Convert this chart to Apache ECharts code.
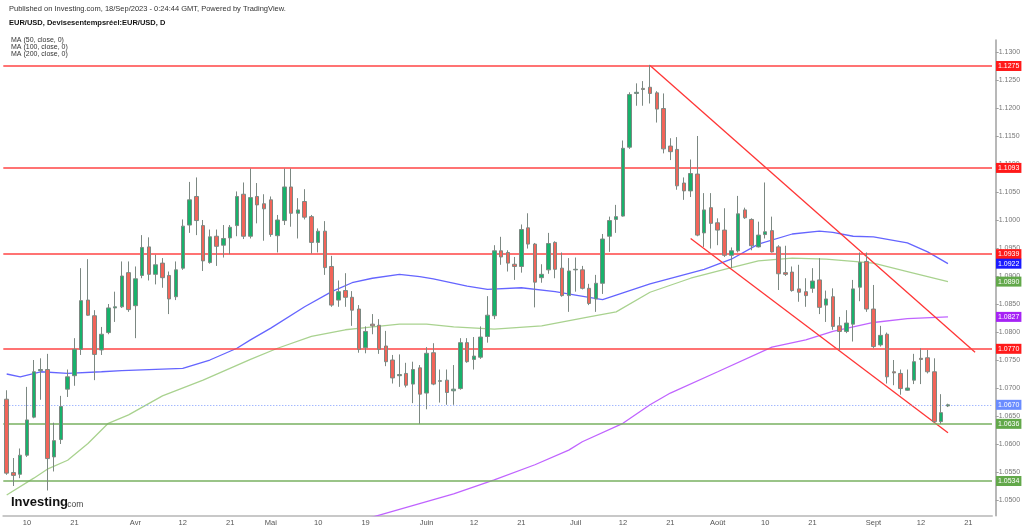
<!DOCTYPE html>
<html>
<head>
<meta charset="utf-8">
<title>EUR/USD</title>
<script src="https://cdn.jsdelivr.net/npm/echarts@6/dist/echarts.min.js"></script>
<style>
html, body { margin: 0; padding: 0; background: #fff; }
#main { width: 1024px; height: 529px; }
</style>
</head>
<body>
<div id="main"></div>
<script>
// bougies journalieres : [date, ouverture, haut, bas, cloture]
var candles = [
    ['2023-03-07', 1.0680, 1.0696, 1.0545, 1.0548],
    ['2023-03-08', 1.0549, 1.0575, 1.0525, 1.0544],
    ['2023-03-09', 1.0546, 1.0592, 1.0539, 1.0580],
    ['2023-03-10', 1.0580, 1.0702, 1.0577, 1.0643],
    ['2023-03-13', 1.0648, 1.0750, 1.0646, 1.0729],
    ['2023-03-14', 1.0731, 1.0753, 1.0679, 1.0733],
    ['2023-03-15', 1.0733, 1.0761, 1.0517, 1.0574],
    ['2023-03-16', 1.0577, 1.0638, 1.0551, 1.0606],
    ['2023-03-17', 1.0608, 1.0686, 1.0600, 1.0667],
    ['2023-03-20', 1.0698, 1.0733, 1.0684, 1.0720],
    ['2023-03-21', 1.0722, 1.0789, 1.0704, 1.0769],
    ['2023-03-22', 1.0769, 1.0914, 1.0759, 1.0856],
    ['2023-03-23', 1.0857, 1.0930, 1.0829, 1.0830],
    ['2023-03-24', 1.0829, 1.0839, 1.0714, 1.0760],
    ['2023-03-27', 1.0768, 1.0809, 1.0759, 1.0796],
    ['2023-03-28', 1.0799, 1.0850, 1.0796, 1.0843],
    ['2023-03-29', 1.0843, 1.0872, 1.0818, 1.0845],
    ['2023-03-30', 1.0845, 1.0926, 1.0843, 1.0900],
    ['2023-03-31', 1.0906, 1.0926, 1.0836, 1.0840],
    ['2023-04-03', 1.0847, 1.0917, 1.0789, 1.0895],
    ['2023-04-04', 1.0901, 1.0973, 1.0896, 1.0951],
    ['2023-04-05', 1.0952, 1.0969, 1.0892, 1.0903],
    ['2023-04-06', 1.0903, 1.0938, 1.0885, 1.0920],
    ['2023-04-07', 1.0923, 1.0932, 1.0879, 1.0897],
    ['2023-04-10', 1.0901, 1.0908, 1.0832, 1.0859],
    ['2023-04-11', 1.0863, 1.0926, 1.0857, 1.0911],
    ['2023-04-12', 1.0914, 1.1001, 1.0911, 1.0989],
    ['2023-04-13', 1.0991, 1.1068, 1.0977, 1.1036],
    ['2023-04-14', 1.1042, 1.1076, 1.0973, 1.0999],
    ['2023-04-17', 1.0990, 1.1000, 1.0909, 1.0927],
    ['2023-04-18', 1.0924, 1.0983, 1.0922, 1.0970],
    ['2023-04-19', 1.0971, 1.0983, 1.0918, 1.0953],
    ['2023-04-20', 1.0955, 1.0991, 1.0933, 1.0967],
    ['2023-04-21', 1.0968, 1.0991, 1.0939, 1.0987],
    ['2023-04-24', 1.0990, 1.1051, 1.0971, 1.1042],
    ['2023-04-25', 1.1046, 1.1067, 1.0966, 1.0971],
    ['2023-04-26', 1.0971, 1.1092, 1.0967, 1.1040],
    ['2023-04-27', 1.1042, 1.1066, 1.0994, 1.1027],
    ['2023-04-28', 1.1029, 1.1046, 1.0963, 1.1020],
    ['2023-05-01', 1.1036, 1.1042, 1.0970, 1.0974],
    ['2023-05-02', 1.0972, 1.1009, 1.0942, 1.1000],
    ['2023-05-03', 1.0999, 1.1092, 1.0991, 1.1059],
    ['2023-05-04', 1.1059, 1.1092, 1.0988, 1.1012],
    ['2023-05-05', 1.1012, 1.1039, 1.0967, 1.1018],
    ['2023-05-08', 1.1033, 1.1055, 1.1001, 1.1005],
    ['2023-05-09', 1.1006, 1.1009, 1.0940, 1.0960],
    ['2023-05-10', 1.0960, 1.0985, 1.0942, 1.0980],
    ['2023-05-11', 1.0980, 1.0998, 1.0902, 1.0915],
    ['2023-05-12', 1.0917, 1.0936, 1.0845, 1.0848],
    ['2023-05-15', 1.0857, 1.0892, 1.0845, 1.0872],
    ['2023-05-16', 1.0874, 1.0905, 1.0845, 1.0862],
    ['2023-05-17', 1.0862, 1.0873, 1.0811, 1.0839],
    ['2023-05-18', 1.0841, 1.0848, 1.0763, 1.0769],
    ['2023-05-19', 1.0772, 1.0810, 1.0762, 1.0801],
    ['2023-05-22', 1.0814, 1.0832, 1.0796, 1.0811],
    ['2023-05-23', 1.0812, 1.0823, 1.0761, 1.0769],
    ['2023-05-24', 1.0775, 1.0802, 1.0739, 1.0747],
    ['2023-05-25', 1.0750, 1.0759, 1.0708, 1.0718],
    ['2023-05-26', 1.0722, 1.0760, 1.0702, 1.0724],
    ['2023-05-29', 1.0726, 1.0745, 1.0701, 1.0705],
    ['2023-05-30', 1.0707, 1.0747, 1.0673, 1.0733],
    ['2023-05-31', 1.0736, 1.0741, 1.0636, 1.0689],
    ['2023-06-01', 1.0691, 1.0773, 1.0662, 1.0762],
    ['2023-06-02', 1.0763, 1.0780, 1.0705, 1.0707],
    ['2023-06-05', 1.0712, 1.0733, 1.0674, 1.0713],
    ['2023-06-06', 1.0714, 1.0733, 1.0670, 1.0692],
    ['2023-06-07', 1.0695, 1.0741, 1.0670, 1.0698],
    ['2023-06-08', 1.0699, 1.0789, 1.0697, 1.0781],
    ['2023-06-09', 1.0781, 1.0789, 1.0745, 1.0747],
    ['2023-06-12', 1.0751, 1.0791, 1.0733, 1.0757],
    ['2023-06-13', 1.0755, 1.0810, 1.0752, 1.0791],
    ['2023-06-14', 1.0792, 1.0864, 1.0781, 1.0830],
    ['2023-06-15', 1.0829, 1.0955, 1.0823, 1.0945],
    ['2023-06-16', 1.0945, 1.0970, 1.0920, 1.0934],
    ['2023-06-19', 1.0942, 1.0946, 1.0908, 1.0923],
    ['2023-06-20', 1.0921, 1.0934, 1.0893, 1.0917],
    ['2023-06-21', 1.0917, 1.0992, 1.0906, 1.0983],
    ['2023-06-22', 1.0986, 1.1012, 1.0949, 1.0957],
    ['2023-06-23', 1.0957, 1.0959, 1.0844, 1.0889],
    ['2023-06-26', 1.0897, 1.0921, 1.0888, 1.0903],
    ['2023-06-27', 1.0911, 1.0977, 1.0904, 1.0958],
    ['2023-06-28', 1.0960, 1.0962, 1.0896, 1.0912],
    ['2023-06-29', 1.0914, 1.0942, 1.0863, 1.0865],
    ['2023-06-30', 1.0865, 1.0932, 1.0836, 1.0909],
    ['2023-07-03', 1.0911, 1.0933, 1.0872, 1.0912],
    ['2023-07-04', 1.0911, 1.0918, 1.0876, 1.0878],
    ['2023-07-05', 1.0878, 1.0886, 1.0848, 1.0851],
    ['2023-07-06', 1.0859, 1.0902, 1.0836, 1.0887],
    ['2023-07-07', 1.0887, 1.0975, 1.0868, 1.0966],
    ['2023-07-10', 1.0971, 1.1006, 1.0943, 1.0999],
    ['2023-07-11', 1.1001, 1.1027, 1.0977, 1.1006],
    ['2023-07-12', 1.1007, 1.1142, 1.1006, 1.1128],
    ['2023-07-13', 1.1130, 1.1228, 1.1127, 1.1224],
    ['2023-07-14', 1.1226, 1.1244, 1.1204, 1.1228],
    ['2023-07-17', 1.1235, 1.1248, 1.1204, 1.1233],
    ['2023-07-18', 1.1237, 1.1277, 1.1208, 1.1226],
    ['2023-07-19', 1.1227, 1.1230, 1.1174, 1.1198],
    ['2023-07-20', 1.1199, 1.1226, 1.1119, 1.1127],
    ['2023-07-21', 1.1132, 1.1146, 1.1107, 1.1122],
    ['2023-07-24', 1.1126, 1.1148, 1.1054, 1.1061],
    ['2023-07-25', 1.1066, 1.1076, 1.1036, 1.1052],
    ['2023-07-26', 1.1052, 1.1108, 1.1041, 1.1083],
    ['2023-07-27', 1.1082, 1.1150, 1.0971, 1.0973],
    ['2023-07-28', 1.0977, 1.1048, 1.0952, 1.1018],
    ['2023-07-31', 1.1022, 1.1048, 1.0949, 1.0994],
    ['2023-08-01', 1.0995, 1.1003, 1.0955, 1.0982],
    ['2023-08-02', 1.0982, 1.1021, 1.0934, 1.0937],
    ['2023-08-03', 1.0937, 1.0951, 1.0914, 1.0945],
    ['2023-08-04', 1.0945, 1.1043, 1.0942, 1.1011],
    ['2023-08-07', 1.1018, 1.1022, 1.1002, 1.1004],
    ['2023-08-08', 1.1001, 1.1003, 1.0946, 1.0954],
    ['2023-08-09', 1.0952, 1.0997, 1.0951, 1.0973],
    ['2023-08-10', 1.0974, 1.1067, 1.0967, 1.0979],
    ['2023-08-11', 1.0981, 1.1006, 1.0942, 1.0943],
    ['2023-08-14', 1.0952, 1.0955, 1.0875, 1.0904],
    ['2023-08-15', 1.0906, 1.0954, 1.0900, 1.0903],
    ['2023-08-16', 1.0907, 1.0917, 1.0872, 1.0874],
    ['2023-08-17', 1.0877, 1.0920, 1.0854, 1.0871],
    ['2023-08-18', 1.0872, 1.0896, 1.0845, 1.0865],
    ['2023-08-21', 1.0878, 1.0914, 1.0870, 1.0891],
    ['2023-08-22', 1.0893, 1.0932, 1.0832, 1.0844],
    ['2023-08-23', 1.0848, 1.0874, 1.0818, 1.0859],
    ['2023-08-24', 1.0863, 1.0878, 1.0804, 1.0810],
    ['2023-08-25', 1.0811, 1.0827, 1.0768, 1.0801],
    ['2023-08-28', 1.0801, 1.0839, 1.0798, 1.0816],
    ['2023-08-29', 1.0814, 1.0893, 1.0783, 1.0877],
    ['2023-08-30', 1.0880, 1.0942, 1.0855, 1.0924],
    ['2023-08-31', 1.0926, 1.0942, 1.0836, 1.0841],
    ['2023-09-01', 1.0841, 1.0884, 1.0771, 1.0774],
    ['2023-09-04', 1.0777, 1.0811, 1.0774, 1.0794],
    ['2023-09-05', 1.0796, 1.0799, 1.0708, 1.0720],
    ['2023-09-06', 1.0729, 1.0750, 1.0705, 1.0727],
    ['2023-09-07', 1.0726, 1.0733, 1.0688, 1.0699],
    ['2023-09-08', 1.0696, 1.0733, 1.0695, 1.0700],
    ['2023-09-11', 1.0714, 1.0761, 1.0707, 1.0747],
    ['2023-09-12', 1.0753, 1.0771, 1.0707, 1.0751],
    ['2023-09-13', 1.0754, 1.0768, 1.0726, 1.0729],
    ['2023-09-14', 1.0729, 1.0753, 1.0638, 1.0640],
    ['2023-09-15', 1.0640, 1.0689, 1.0636, 1.0656],
    ['2023-09-18', 1.0668, 1.0672, 1.0666, 1.0670]
];

// moyennes mobiles
var ma50 = [
    ['2023-03-07', 1.0725], ['2023-03-09', 1.0720], ['2023-03-14', 1.0729], ['2023-03-20', 1.0726],
    ['2023-03-27', 1.0729], ['2023-03-30', 1.0731], ['2023-04-12', 1.0735], ['2023-04-18', 1.0750],
    ['2023-04-24', 1.0771], ['2023-04-26', 1.0786], ['2023-05-01', 1.0807], ['2023-05-08', 1.0845],
    ['2023-05-12', 1.0872], ['2023-05-17', 1.0888], ['2023-05-22', 1.0896], ['2023-05-26', 1.0903],
    ['2023-05-31', 1.0899], ['2023-06-02', 1.0895], ['2023-06-09', 1.0882], ['2023-06-14', 1.0876],
    ['2023-06-21', 1.0879], ['2023-06-28', 1.0872], ['2023-07-03', 1.0866], ['2023-07-07', 1.0858],
    ['2023-07-18', 1.0886], ['2023-07-28', 1.0912], ['2023-08-03', 1.0930], ['2023-08-09', 1.0957],
    ['2023-08-16', 1.0975], ['2023-08-22', 1.0980], ['2023-08-24', 1.0978], ['2023-08-29', 1.0971],
    ['2023-09-01', 1.0970], ['2023-09-08', 1.0959], ['2023-09-13', 1.0943], ['2023-09-18', 1.0922]
];
var ma100 = [
    ['2023-03-07', 1.0509], ['2023-03-13', 1.0539], ['2023-03-15', 1.0555], ['2023-03-20', 1.0571],
    ['2023-03-23', 1.0601], ['2023-03-28', 1.0637], ['2023-03-31', 1.0652], ['2023-04-07', 1.0686],
    ['2023-04-17', 1.0714], ['2023-04-26', 1.0751], ['2023-05-02', 1.0771], ['2023-05-09', 1.0792],
    ['2023-05-16', 1.0804], ['2023-05-19', 1.0808], ['2023-05-26', 1.0814], ['2023-06-01', 1.0814],
    ['2023-06-07', 1.0809], ['2023-06-15', 1.0805], ['2023-06-26', 1.0811], ['2023-07-05', 1.0827],
    ['2023-07-11', 1.0836], ['2023-07-18', 1.0871], ['2023-07-26', 1.0896], ['2023-08-02', 1.0912],
    ['2023-08-09', 1.0927], ['2023-08-16', 1.0932], ['2023-08-23', 1.0930], ['2023-08-29', 1.0926],
    ['2023-09-01', 1.0923], ['2023-09-08', 1.0908], ['2023-09-18', 1.0890]
];
var ma200 = [
    ['2023-05-19', 1.0466], ['2023-06-07', 1.0511], ['2023-06-15', 1.0536], ['2023-06-23', 1.0563],
    ['2023-06-30', 1.0589], ['2023-07-04', 1.0604], ['2023-07-12', 1.0637], ['2023-07-18', 1.0670],
    ['2023-07-21', 1.0691], ['2023-08-01', 1.0729], ['2023-08-11', 1.0773], ['2023-08-18', 1.0786],
    ['2023-08-24', 1.0801], ['2023-09-01', 1.0817], ['2023-09-08', 1.0824], ['2023-09-18', 1.0827]
];

// niveaux horizontaux et canal baissier
var redLevels = [1.1275, 1.1093, 1.0939, 1.0770];
var greenLevels = [1.0636, 1.0534];
var lastPrice = 1.0670;
var channelTop = [['2023-07-18', 1.1276], ['2023-09-22', 1.0764]];
var channelBottom = [['2023-07-26', 1.0967], ['2023-09-18', 1.0620]];

var yTicks = [1.0500, 1.0550, 1.0600, 1.0650, 1.0700, 1.0750, 1.0800, 1.0850, 1.0900,
              1.0950, 1.1000, 1.1050, 1.1100, 1.1150, 1.1200, 1.1250, 1.1300];
var xTicks = {
    '2023-03-10': '10', '2023-03-21': '21', '2023-04-03': 'Avr', '2023-04-12': '12',
    '2023-04-21': '21', '2023-05-01': 'Mai', '2023-05-10': '10', '2023-05-19': '19',
    '2023-06-01': 'Juin', '2023-06-12': '12', '2023-06-21': '21', '2023-07-03': 'Juil',
    '2023-07-12': '12', '2023-07-21': '21', '2023-08-01': 'Août', '2023-08-10': '10',
    '2023-08-21': '21', '2023-09-01': 'Sept', '2023-09-12': '12', '2023-09-21': '21'
};

// jours ouvres du 7 mars au 26 septembre 2023
var days = [];
var d = new Date(Date.UTC(2023, 2, 7));
var dEnd = new Date(Date.UTC(2023, 8, 26));
while (d <= dEnd) {
    var wd = d.getUTCDay();
    if (wd != 0 && wd != 6) days.push(d.toISOString().slice(0, 10));
    d.setUTCDate(d.getUTCDate() + 1);
}

var candleData = candles.map(function (c) { return [c[1], c[4], c[3], c[2]]; });

function isTick(index, value) { return xTicks.hasOwnProperty(value); }

function tag(v, bg, line) {
    return {
        yAxis: v,
        lineStyle: line,
        label: { backgroundColor: bg }
    };
}

var levelLines = [];
redLevels.forEach(function (v) { levelLines.push(tag(v, '#ff1a1a', { color: '#ff4545', width: 1.6, type: 'solid' })); });
greenLevels.forEach(function (v) { levelLines.push(tag(v, '#62a84a', { color: '#78b060', width: 1.6, type: 'solid' })); });
levelLines.push(tag(lastPrice, '#6a8cff', { color: '#7d9bff', width: 1, type: [1, 2] }));

var tagLabel = {
    show: true,
    position: 'end',
    distance: 4,
    formatter: function (p) { return Number(p.value).toFixed(4); },
    color: '#fff',
    fontSize: 7,
    fontFamily: 'Liberation Sans',
    padding: [2, 2, 1, 2]
};

function maSeries(name, data, color, tagColor) {
    var last = data[data.length - 1][1];
    return {
        name: name,
        type: 'line',
        data: data,
        symbol: 'none',
        silent: true,
        z: 3,
        lineStyle: { color: color, width: 1.3 },
        markLine: {
            silent: true,
            precision: 4,
            symbol: ['none', 'none'],
            label: tagLabel,
            data: [tag(last, tagColor, { color: 'rgba(0,0,0,0)', width: 0 })]
        }
    };
}

function channelSeries(data) {
    return {
        type: 'line',
        data: data,
        symbol: 'none',
        silent: true,
        z: 4,
        lineStyle: { color: '#ff3535', width: 1.3 }
    };
}

var myChart = echarts.init(document.getElementById('main'));

var option = {
    animation: false,
    backgroundColor: '#fff',
    grid: { left: 3.3, right: 32, top: 40, bottom: 13.3 },
    xAxis: {
        type: 'category',
        data: days,
        boundaryGap: true,
        axisLine: { lineStyle: { color: '#c8c8c8', width: 2 } },
        axisTick: { interval: isTick, alignWithLabel: true, length: 3, lineStyle: { color: '#b0b0b0' } },
        axisLabel: {
            interval: isTick,
            formatter: function (v) { return xTicks[v] || ''; },
            fontSize: 7.5,
            fontFamily: 'Liberation Sans',
            color: '#555',
            margin: 3
        },
        splitLine: { show: false }
    },
    yAxis: {
        type: 'value',
        position: 'right',
        offset: 3.7,
        min: 1.0472,
        max: 1.13214,
        scale: true,
        axisLine: { show: true, lineStyle: { color: '#a0a0a0', width: 1.5 } },
        axisTick: { show: true, customValues: yTicks, length: 3, lineStyle: { color: '#a0a0a0' } },
        axisLabel: {
            customValues: yTicks,
            formatter: function (v) { return v.toFixed(4); },
            fontSize: 7,
            fontFamily: 'Liberation Sans',
            color: '#777',
            margin: 3
        },
        splitLine: { show: false }
    },
    graphic: [
        { type: 'text', x: 9, y: 9, style: { text: 'Published on Investing.com, 18/Sep/2023 - 0:24:44 GMT, Powered by TradingView.', font: '7.5px "Liberation Sans"', fill: '#333', verticalAlign: 'middle' } },
        { type: 'text', x: 9, y: 23, style: { text: 'EUR/USD, Devisesentempsréel:EUR/USD, D', font: 'bold 7.5px "Liberation Sans"', fill: '#111', verticalAlign: 'middle' } },
        { type: 'text', x: 11, y: 40, style: { text: 'MA (50, close, 0)', font: '7px "Liberation Sans"', fill: '#333', verticalAlign: 'middle' } },
        { type: 'text', x: 11, y: 47, style: { text: 'MA (100, close, 0)', font: '7px "Liberation Sans"', fill: '#333', verticalAlign: 'middle' } },
        { type: 'text', x: 11, y: 54.5, style: { text: 'MA (200, close, 0)', font: '7px "Liberation Sans"', fill: '#333', verticalAlign: 'middle' } },
        { type: 'text', x: 11, y: 502.5, z: 10, style: { text: 'Investing', font: 'bold 13px "Liberation Sans"', fill: '#111', verticalAlign: 'middle' } },
        { type: 'text', x: 65, y: 505, z: 10, style: { text: '.com', font: '8.5px "Liberation Sans"', fill: '#444', verticalAlign: 'middle' } }
    ],
    series: [
        {
            name: 'EUR/USD',
            type: 'candlestick',
            data: candleData,
            barWidth: 4,
            z: 5,
            itemStyle: {
                color: '#17b26b',
                color0: '#f26459',
                borderColor: '#7c8882',
                borderColor0: '#7c8882',
                borderWidth: 1
            },
            markLine: {
                silent: true,
                precision: 4,
                symbol: ['none', 'none'],
                label: tagLabel,
                data: levelLines
            }
        },
        maSeries('MA (50, close, 0)', ma50, '#6565ff', '#1a1aff'),
        maSeries('MA (100, close, 0)', ma100, '#a9d28f', '#62a84a'),
        maSeries('MA (200, close, 0)', ma200, '#c064ff', '#a623f5'),
        channelSeries(channelTop),
        channelSeries(channelBottom)
    ]
};

myChart.setOption(option);
</script>
</body>
</html>
